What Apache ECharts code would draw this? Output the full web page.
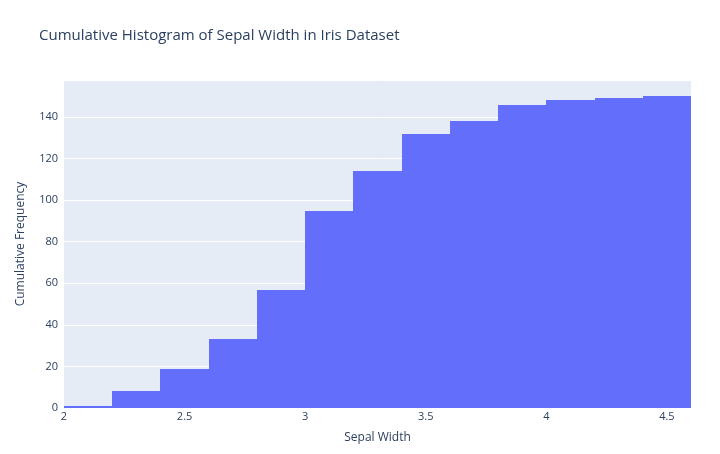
<!DOCTYPE html>
<html>
<head>
<meta charset="utf-8">
<script src="https://cdn.jsdelivr.net/npm/echarts@6/dist/echarts.min.js"></script>
<style>
  html, body { margin: 0; padding: 0; background: #fff; }
  #main { width: 720px; height: 454px; }
</style>
</head>
<body>
<div id="main"></div>
<script>
// bin edges (sepal width) and cumulative counts
var binStart = [2.0, 2.2, 2.4, 2.6, 2.8, 3.0, 3.2, 3.4, 3.6, 3.8, 4.0, 4.2, 4.4];
var binEnd = [2.2, 2.4, 2.6, 2.8, 3.0, 3.2, 3.4, 3.6, 3.8, 4.0, 4.2, 4.4, 4.6];
var cumCount = [1, 8, 19, 33, 57, 95, 114, 132, 138, 146, 148, 149, 150];

var seriesData = binStart.map(function (s, i) {
  return [s, binEnd[i], cumCount[i]];
});

var chart = echarts.init(document.getElementById('main'));
var font = '"Open Sans", Verdana, Arial, sans-serif';

chart.setOption({
  backgroundColor: '#fff',
  title: {
    text: 'Cumulative Histogram of Sepal Width in Iris Dataset',
    left: 34,
    top: 23,
    textStyle: { fontFamily: font, fontSize: 15, fontWeight: 'normal', color: '#2a3f5f' }
  },
  grid: {
    left: 64, right: 29, top: 80, bottom: 46,
    show: true, backgroundColor: '#e5ecf6', borderWidth: 0
  },
  xAxis: {
    type: 'value',
    min: 2, max: 4.6, interval: 0.5,
    name: 'Sepal Width',
    nameLocation: 'middle',
    nameGap: 24,
    nameTextStyle: { fontFamily: font, fontSize: 12, color: '#2a3f5f' },
    axisLine: { show: false },
    axisTick: { show: false },
    splitLine: { show: false },
    axisLabel: {
      fontFamily: font, fontSize: 11, color: '#2a3f5f', margin: 3,
      showMaxLabel: false,
      formatter: function (v) { return String(+v.toFixed(1)); }
    }
  },
  yAxis: {
    type: 'value',
    min: 0, max: 157.8, interval: 20,
    name: 'Cumulative Frequency',
    nameLocation: 'middle',
    nameGap: 37,
    nameTextStyle: { fontFamily: font, fontSize: 12, color: '#2a3f5f' },
    axisLine: { show: false },
    axisTick: { show: false },
    axisLabel: {
      fontFamily: font, fontSize: 11, color: '#2a3f5f', margin: 6,
      showMaxLabel: false
    },
    splitLine: { lineStyle: { color: '#ffffff', width: 1 } }
  },
  series: [{
    type: 'custom',
    data: seriesData,
    encode: { x: [0, 1], y: 2 },
    renderItem: function (params, api) {
      var p0 = api.coord([api.value(0), api.value(2)]);
      var p1 = api.coord([api.value(1), 0]);
      var x0 = Math.round(p0[0]), x1 = Math.round(p1[0]);
      var y0 = Math.round(p0[1]), y1 = Math.round(p1[1]);
      return {
        type: 'rect',
        shape: { x: x0, y: y0, width: x1 - x0, height: y1 - y0 },
        style: { fill: '#636efa' }
      };
    }
  }]
});
</script>
</body>
</html>
